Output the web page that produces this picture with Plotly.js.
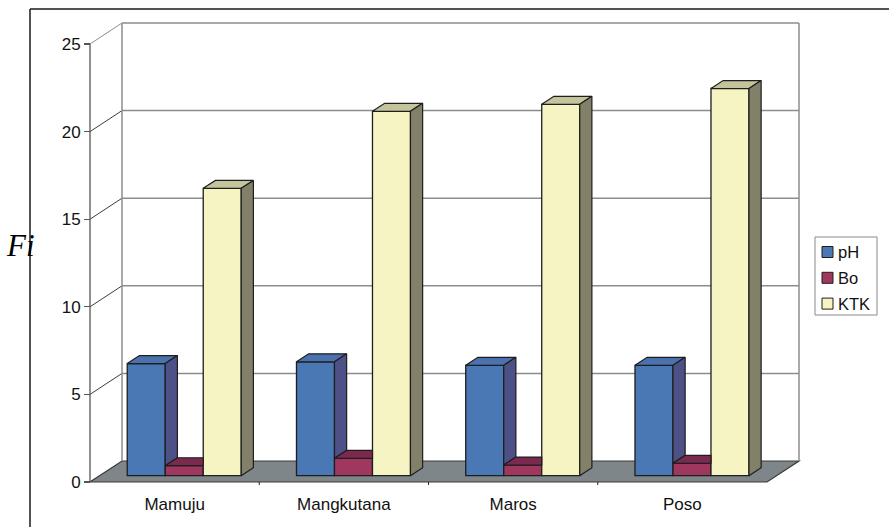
<!DOCTYPE html>
<html>
<head>
<meta charset="utf-8">
<script src="https://cdn.plot.ly/plotly-3.0.1.min.js"></script>
<style>
  html, body { margin: 0; padding: 0; background: #ffffff; }
  #chart { width: 889px; height: 527px; }
</style>
</head>
<body>
<div id="chart"></div>
<script>
// ---- data ----
const categories = ['Mamuju', 'Mangkutana', 'Maros', 'Poso'];
const seriesNames = ['pH', 'Bo', 'KTK'];
const phValues = [6.4, 6.5, 6.3, 6.3];
const boValues = [0.57, 0.99, 0.61, 0.71];
const ktkValues = [16.4, 20.8, 21.2, 22.1];
const yTickValues = [0, 5, 10, 15, 20, 25];

// ---- styling ----
const frontColors = ['#4a78b5', '#a0375f', '#f7f4c4'];
const topColors   = ['#4b72ae', '#7a2a4f', '#c4c39b'];
const sideColors  = ['#4d5188', '#6b2444', '#828068'];
const edgeColor = '#1e1e1e';
const fontFamily = 'Liberation Sans, Arial, sans-serif';

// ---- geometry (oblique 3-D projection in axis units) ----
const W = 889, H = 527;
const M = { l: 86, r: 87, t: 19, b: 35 };
const pxPerX = 169.25, pxPerY = 17.52;
const plotW = W - M.l - M.r, plotH = H - M.t - M.b;
const zeroPx = 482;                               // screen row of value 0 on the front axis
const xMin = -4 / pxPerX, xMax = xMin + plotW / pxPerX;
const yMin = -((H - M.b) - zeroPx) / pxPerY;
const yMax = yMin + plotH / pxPerY;
const Dx = 32 / pxPerX, Dy = 21 / pxPerY;         // full floor depth
const frontFrac = 0.3, backFrac = 0.68;
const dxF = frontFrac * Dx, base = frontFrac * Dy;
const ddx = (backFrac - frontFrac) * Dx, ddy = (backFrac - frontFrac) * Dy;
const barW = 38 / pxPerX;
const nCat = categories.length;
const allValues = [phValues, boValues, ktkValues];

const paperX = p => (p - M.l) / plotW;
const paperY = p => (H - M.b - p) / plotH;

const traces = [];
// front faces as bars
allValues.forEach((vals, s) => {
  traces.push({
    type: 'bar',
    name: seriesNames[s],
    x: categories.map((_, i) => i + 0.5 + dxF + (s - 1) * barW),
    y: vals,
    base: vals.map(() => base),
    width: vals.map(() => barW),
    marker: { color: frontColors[s], line: { color: edgeColor, width: 1.3 } },
    hoverinfo: 'skip',
    showlegend: false
  });
});

// visible parts of top and right-side faces
allValues.forEach((vals, s) => {
  const topX = [], topY = [], sideX = [], sideY = [];
  vals.forEach((v, i) => {
    const x0 = i + 0.5 + dxF + (s - 1.5) * barW;
    const x1 = x0 + barW;
    const h = v + base;
    const next = s < allValues.length - 1 ? allValues[s + 1][i] + base : null;
    // top face (cut off where the taller neighbour hides it)
    if (next !== null && next > h) {
      topX.push(x0, x1, x1, x0 + ddx, x0, null);
      topY.push(h, h, h + ddy, h + ddy, h, null);
    } else {
      topX.push(x0, x1, x1 + ddx, x0 + ddx, x0, null);
      topY.push(h, h, h + ddy, h + ddy, h, null);
    }
    // right side face, only the part above the neighbour
    const low = next !== null ? next : base;
    if (h > low) {
      sideX.push(x1, x1 + ddx, x1 + ddx, x1, x1, null);
      sideY.push(low, low + ddy, h + ddy, h, low, null);
    }
  });
  traces.push({
    type: 'scatter', mode: 'lines', x: topX, y: topY, fill: 'toself',
    fillcolor: topColors[s], line: { color: edgeColor, width: 1.2 },
    hoverinfo: 'skip', showlegend: false
  });
  traces.push({
    type: 'scatter', mode: 'lines', x: sideX, y: sideY, fill: 'toself',
    fillcolor: sideColors[s], line: { color: edgeColor, width: 1.2 },
    hoverinfo: 'skip', showlegend: false
  });
});

// ---- walls, floor and gridlines ----
const shapes = [];
shapes.push({
  type: 'path', xref: 'x', yref: 'y', layer: 'below',
  path: `M 0 0 L ${nCat} 0 L ${nCat + Dx} ${Dy} L ${Dx} ${Dy} Z`,
  fillcolor: '#7e8689', line: { color: '#3a3a3a', width: 1.2 }
});
yTickValues.filter(v => v > 0).forEach(v => {
  shapes.push({ type: 'line', xref: 'x', yref: 'y', layer: 'below',
    x0: Dx, y0: v + Dy, x1: nCat + Dx, y1: v + Dy,
    line: { color: '#8a8d90', width: 1.5 } });
  shapes.push({ type: 'line', xref: 'x', yref: 'y', layer: 'below',
    x0: 0, y0: v, x1: Dx, y1: v + Dy,
    line: { color: v === 25 ? '#8a8d90' : '#3c3c3c', width: 1 } });
});
[Dx, nCat + Dx].forEach(xv => {
  shapes.push({ type: 'line', xref: 'x', yref: 'y', layer: 'below',
    x0: xv, y0: Dy, x1: xv, y1: 25 + Dy, line: { color: '#8a8d90', width: 1.5 } });
});
shapes.push({ type: 'line', xref: 'x', yref: 'y', layer: 'below',
  x0: 0, y0: 0, x1: 0, y1: 25, line: { color: '#555555', width: 1.3 } });
for (let k = 1; k < nCat; k++) {
  shapes.push({ type: 'line', xref: 'x', yref: 'y', layer: 'above',
    x0: k, y0: 0, x1: k, y1: -3 / pxPerY, line: { color: '#222', width: 1 } });
}

// outer frame of the chart area
shapes.push({ type: 'line', xref: 'paper', yref: 'paper',
  x0: paperX(30), y0: paperY(9), x1: paperX(889), y1: paperY(9),
  line: { color: '#1a1a1a', width: 1.5 } });
shapes.push({ type: 'line', xref: 'paper', yref: 'paper',
  x0: paperX(30), y0: paperY(9), x1: paperX(30), y1: paperY(527),
  line: { color: '#1a1a1a', width: 1.5 } });

// ---- legend ----
const annotations = [];
shapes.push({ type: 'rect', xref: 'paper', yref: 'paper',
  x0: paperX(815), y0: paperY(237), x1: paperX(877), y1: paperY(315),
  fillcolor: '#ffffff', line: { color: '#8a8a8a', width: 1 } });
seriesNames.forEach((name, s) => {
  const cy = 252 + s * 25.8;
  shapes.push({ type: 'rect', xref: 'paper', yref: 'paper',
    x0: paperX(822), y0: paperY(cy - 5.5), x1: paperX(833), y1: paperY(cy + 5.5),
    fillcolor: frontColors[s], line: { color: edgeColor, width: 1 } });
  annotations.push({ xref: 'paper', yref: 'paper', x: paperX(836), y: paperY(cy),
    xanchor: 'left', yanchor: 'middle', showarrow: false, text: name,
    font: { family: fontFamily, size: 16.5, color: '#111' } });
});

annotations.push({ xref: 'paper', yref: 'paper', x: paperX(4), y: paperY(245),
  xanchor: 'left', yanchor: 'middle', showarrow: false, text: 'Fi',
  font: { family: 'Liberation Serif, Times New Roman, serif', size: 31, style: 'italic', color: '#000' } });

const layout = {
  width: W, height: H,
  margin: M,
  paper_bgcolor: '#ffffff', plot_bgcolor: 'rgba(0,0,0,0)',
  barmode: 'overlay',
  showlegend: false,
  xaxis: {
    range: [xMin, xMax], showgrid: false, zeroline: false, showline: false,
    tickmode: 'array', tickvals: categories.map((_, i) => i + 0.5), ticktext: categories,
    ticks: '', tickfont: { family: fontFamily, size: 17, color: '#111' },
    fixedrange: true
  },
  yaxis: {
    range: [yMin, yMax], anchor: 'free', position: paperX(90),
    showgrid: false, zeroline: false, showline: false,
    tickmode: 'array', tickvals: yTickValues,
    ticks: 'outside', ticklen: 6, tickcolor: '#555', tickwidth: 1.2,
    tickfont: { family: fontFamily, size: 17, color: '#111' },
    fixedrange: true
  },
  shapes: shapes,
  annotations: annotations
};

Plotly.newPlot('chart', traces, layout, { staticPlot: true, displayModeBar: false });
</script>
</body>
</html>
